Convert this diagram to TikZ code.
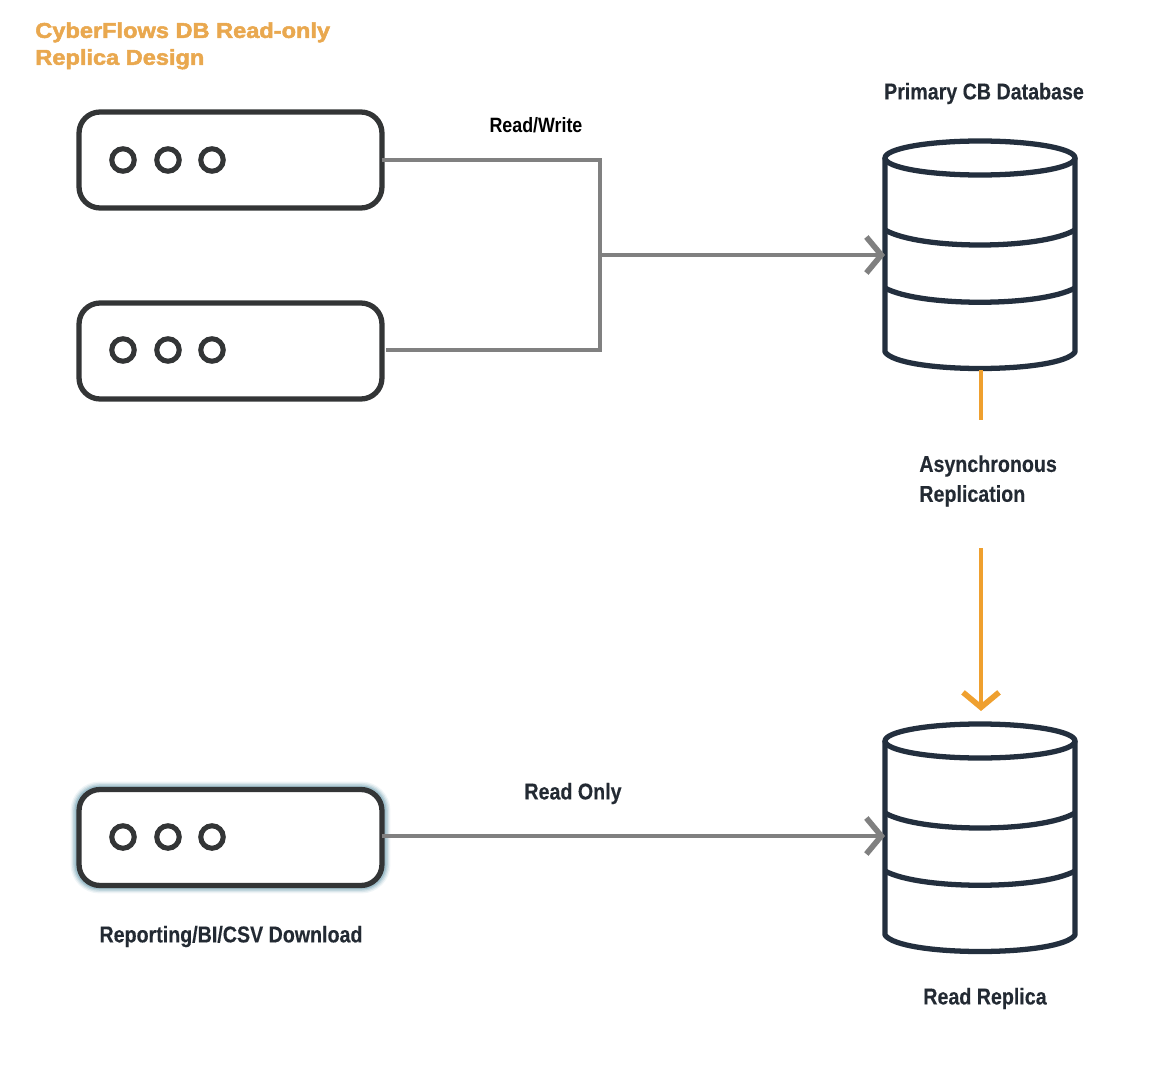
\documentclass[tikz,border=0pt]{standalone}
\usepackage{fontspec}
\usetikzlibrary{arrows.meta, positioning}
\setmainfont{Liberation Sans}
\newfontfamily\labelfont[FakeStretch=0.86,FakeBold=0.25]{Liberation Sans}
\newfontfamily\rwfont[FakeStretch=0.86]{Liberation Sans}
\newfontfamily\titlefont[FakeStretch=1.1,FakeBold=2.4]{Liberation Sans}

\definecolor{boxline}{HTML}{333536}
\definecolor{dbline}{HTML}{232F3E}
\definecolor{wiregray}{HTML}{808080}
\definecolor{replorange}{HTML}{EFA02F}
\definecolor{titleorange}{HTML}{E9A84F}
\definecolor{labeltext}{HTML}{232A33}
\definecolor{glowblue}{HTML}{3F7F96}

\tikzset{
  serverbox/.style={draw=boxline, line width=3pt, rounded corners=0.42cm, fill=white,
    minimum width=6.06cm, minimum height=1.92cm, inner sep=0pt, outer sep=0pt},
  led/.style={draw=boxline, line width=2.9pt, circle, minimum size=0.45cm, inner sep=0pt},
  wire/.style={draw=wiregray, line width=2.8pt},
  replwire/.style={draw=replorange, line width=2.8pt},
  barb/.style={-{Straight Barb[length=0.3cm, width=0.72cm, line width=3.2pt]}},
  lbl/.style={font=\labelfont\bfseries\fontsize{13}{17}\selectfont, text=labeltext, inner sep=0pt},
  dbstack/.pic={
    \draw [dbline, line width=3pt, fill=white, line join=round]
      (-95,0) -- (-95,194) .. controls (-80,216) and (80,216) .. (95,194) -- (95,0);
    \draw [dbline, line width=3pt, fill=white] (0,0) ellipse [x radius=95, y radius=17];
    \draw [dbline, line width=3pt] (-95,72) .. controls (-60,92) and (60,92) .. (95,72);
    \draw [dbline, line width=3pt] (-95,130) .. controls (-60,149) and (60,149) .. (95,130);
    \coordinate (-west) at (-95,97);
    \coordinate (-north) at (0,-17);
    \coordinate (-south) at (0,212);
  }
}

\begin{document}
\begin{tikzpicture}[x=0.02cm, y=-0.02cm]
\useasboundingbox (0,0) rectangle (1157,1088);

% Title
\node [font=\titlefont\bfseries\fontsize{12.2}{15.3}\selectfont, text=titleorange, align=left,
  anchor=north west, inner sep=0pt] (title) at (35,22) {CyberFlows DB Read-only\\Replica Design};

% Glow round the reporting box
\foreach \glow/\glowop in {9/0.08, 7.5/0.12, 6/0.16, 4.5/0.25}
  \draw [glowblue, line width=\glow pt, rounded corners=0.42cm, opacity=\glowop]
    (78.5,789.5) rectangle (382.5,885.5);

% Clients
\node [serverbox] (srvA) at (230.5,160) {};
\node [serverbox] (srvB) at (230.5,351) {};
\node [serverbox] (srvC) at (230.5,837.5) {};

\foreach \srv/\ypos in {A/160, B/350, C/837} {
  \node [led] (led\srv1) at (123,\ypos) {};
  \node [led] (led\srv2) at (168,\ypos) {};
  \node [led] (led\srv3) at (212,\ypos) {};
}

% Databases
\pic (dbP) at (980,158) {dbstack};
\pic (dbR) at (980,741) {dbstack};

% Read/write paths
\coordinate (joinTop) at (600,160);
\coordinate (joinBot) at (600,350);
\coordinate (joinMid) at (600,255);
\coordinate (srvBout) at (386,350);
\draw [wire, line join=miter] (srvA.east |- joinTop) -- (joinTop) -- (joinBot) -- (srvBout);
\draw [wire, barb] (joinMid) -- (dbP-west |- joinMid);

% Read only path
\coordinate (dbRin) at (885,836);
\draw [wire, barb] (srvC.east |- dbRin) -- (dbRin);

% Replication
\coordinate (replEnd) at (981,420);
\coordinate (replStart) at (981,548);
\coordinate (replTip) at (981,711);
\draw [replwire] (replEnd |- dbP-south) -- (replEnd);
\draw [replwire, barb] (replStart) -- (replTip);

% Labels
\node [lbl, text=black, font=\rwfont\bfseries\fontsize{11.8}{15}\selectfont] (lblRW) at (536,125) {Read/Write};
\node [lbl] (lblPrimary) at (984,93.5) {Primary CB Database};
\node [lbl, align=left, anchor=north west] (lblAsync) at (919,455) {Asynchronous\\Replication};
\node [lbl] (lblRO) at (573,793.5) {Read Only};
\node [lbl] (lblBI) at (231,936.5) {Reporting/BI/CSV Download};
\node [lbl] (lblReplica) at (985,998.5) {Read Replica};

\end{tikzpicture}
\end{document}
